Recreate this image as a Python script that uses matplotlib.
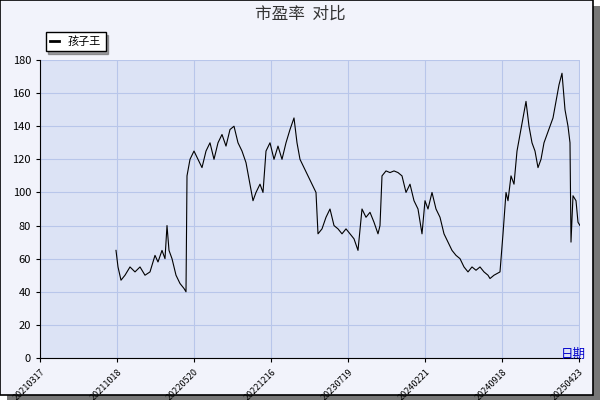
import matplotlib
matplotlib.use("Agg")
import matplotlib.pyplot as plt
from matplotlib.patches import Rectangle
from matplotlib.lines import Line2D

plt.rcParams['font.family'] = ['Noto Sans CJK SC', 'DejaVu Sans']

tick_labels = ["20210317","20211018","20220520","20221216","20230719","20240221","20240918","20250423"]
tick_pos = [40,117,194,271,348,425,502,579]
t = [116,118,121,125,130,135,140,145,150,155,158,162,165,167,169,172,176,180,184,186,187,190,194,198,202,206,210,214,218,222,226,230,234,238,242,246,250,253,256,260,263,266,270,274,278,282,286,290,294,297,300,304,308,312,316,318,322,326,330,334,338,342,346,350,354,358,362,366,370,374,378,380,382,386,390,394,398,402,406,410,414,418,422,425,428,432,436,440,444,448,452,456,460,464,468,472,476,480,484,488,490,494,500,503,506,508,511,514,517,520,523,526,529,532,535,538,541,544,547,550,553,556,559,562,565,568,570,571,573,576,578,580]
pe = [65,55,47,50,55,52,55,50,52,62,58,65,60,80,65,60,50,45,42,40,110,120,125,120,115,125,130,120,130,135,128,138,140,130,125,118,105,95,100,105,100,125,130,120,128,120,130,138,145,130,120,115,110,105,100,75,78,85,90,80,78,75,78,75,72,65,90,85,88,82,75,80,110,113,112,113,112,110,100,105,95,90,75,95,90,100,90,85,75,70,65,62,60,55,52,55,53,55,52,50,48,50,52,75,100,95,110,105,125,135,145,155,140,130,125,115,120,130,135,140,145,155,165,172,150,140,130,70,98,95,82,80]

fig = plt.figure(figsize=(6,4), dpi=100, facecolor='white')
fig.patches.append(Rectangle((0.012,0.0), 0.988, 0.985, transform=fig.transFigure, facecolor='#777777', edgecolor='none', zorder=-2))
fig.patches.append(Rectangle((0.0,0.012), 0.988, 0.988, transform=fig.transFigure, facecolor='#f2f3fb', edgecolor='black', lw=1.2, zorder=-1))
ax = fig.add_axes([40/600, 1-358/400, 540/600, 298/400])
ax.set_facecolor('#dce3f5')
ax.plot(t, pe, color='black', lw=0.8)
ax.set_xlim(40, 580)
ax.set_ylim(0, 180)
ax.set_yticks(range(0,181,20))
ax.set_xticks(tick_pos)
ax.set_xticklabels(tick_labels, rotation=45, ha='right', fontsize=6.5, rotation_mode='anchor')
ax.tick_params(axis='y', labelsize=8, length=3)
ax.tick_params(axis='x', length=3)
ax.grid(True, color='#b8c6ea', lw=0.8)
for s in ['top','right']:
    ax.spines[s].set_visible(False)
fig.text(0.5, 0.965, "市盈率  对比", ha='center', va='center', fontsize=12, color='#333333')
fig.text(0.955, 0.115, "日期", ha='center', va='center', fontsize=9, color='#0000cc')
handle = Line2D([], [], color='black', lw=2)
ax.legend([handle], ["孩子王"], loc='lower left', bbox_to_anchor=(0.0, 1.01), fontsize=8,
          fancybox=False, edgecolor='black', shadow=True, handlelength=0.8, framealpha=1)
fig.savefig("out.png", facecolor=fig.get_facecolor())
